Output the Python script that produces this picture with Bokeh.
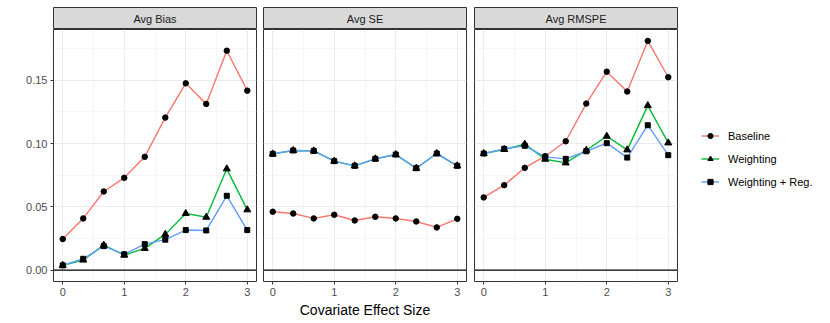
from bokeh.plotting import figure
from bokeh.layouts import row, column
from bokeh.models import Range1d, FixedTicker, Span, Legend, LegendItem, PrintfTickFormatter
from bokeh.core.properties import value
from bokeh.embed import file_html
from bokeh.resources import INLINE

# ---------------- data ----------------
effect_size = [0, 0.333, 0.667, 1, 1.333, 1.667, 2, 2.333, 2.667, 3]
panel_titles = ["Avg Bias", "Avg SE", "Avg RMSPE"]
methods = ["Baseline", "Weighting", "Weighting + Reg."]

bias_baseline = [0.0245, 0.0408, 0.0621, 0.0729, 0.0895, 0.1205, 0.1476, 0.1313, 0.1734, 0.1418]
bias_weighting = [0.0037, 0.0079, 0.0197, 0.0118, 0.0171, 0.0282, 0.0447, 0.0418, 0.0800, 0.0476]
bias_weighting_reg = [0.0037, 0.0089, 0.0189, 0.0124, 0.0205, 0.0240, 0.0316, 0.0313, 0.0587, 0.0316]

se_baseline = [0.0461, 0.0447, 0.0408, 0.0437, 0.0392, 0.0421, 0.0408, 0.0384, 0.0337, 0.0405]
se_weighting = [0.0918, 0.0945, 0.0942, 0.0861, 0.0824, 0.0879, 0.0913, 0.0805, 0.0921, 0.0824]
se_weighting_reg = [0.0918, 0.0945, 0.0942, 0.0861, 0.0824, 0.0879, 0.0913, 0.0805, 0.0921, 0.0824]

rmspe_baseline = [0.0574, 0.0671, 0.0808, 0.0900, 0.1018, 0.1316, 0.1568, 0.1411, 0.1811, 0.1524]
rmspe_weighting = [0.0921, 0.0953, 0.0995, 0.0876, 0.0847, 0.0947, 0.1058, 0.0950, 0.1300, 0.1005]
rmspe_weighting_reg = [0.0921, 0.0958, 0.0982, 0.0895, 0.0879, 0.0939, 0.1003, 0.0889, 0.1145, 0.0908]

x_ticks = [0, 1, 2, 3]
x_minor_ticks = [0.5, 1.5, 2.5]
y_ticks = [0.0, 0.05, 0.10, 0.15]
y_minor_ticks = [0.025, 0.075, 0.125, 0.175]
x_label = "Covariate Effect Size"

panel_data = [
    [bias_baseline, bias_weighting, bias_weighting_reg],
    [se_baseline, se_weighting, se_weighting_reg],
    [rmspe_baseline, rmspe_weighting, rmspe_weighting_reg],
]

# ---------------- styles ----------------
FONT = "Liberation Sans"
colors = ["#F8766D", "#00BA38", "#619CFF"]
markers = ["circle", "triangle", "square"]
marker_sizes = [5.5, 7, 5]

all_vals = [v for panel in panel_data for s in panel for v in s]
y_lo = min(0.0, min(all_vals))
y_hi = max(all_vals)
y_pad = 0.05 * (y_hi - y_lo)
x_pad = 0.05 * (max(effect_size) - min(effect_size))

x_range = Range1d(min(effect_size) - x_pad, max(effect_size) + x_pad)
y_range = Range1d(y_lo - y_pad, y_hi + y_pad)

FRAME_W = 203
TOP = 7
STRIP_H = 22
FRAME_H = 252
BOTTOM = 41

columns = []
for i, (title, series) in enumerate(zip(panel_titles, panel_data)):
    ml = 53 if i == 0 else 4
    mr = 4 if i == 1 else 3
    w = ml + FRAME_W + mr

    strip = figure(width=w, height=TOP + STRIP_H, x_range=x_range, y_range=Range1d(0, 1),
                   output_backend="svg", toolbar_location=None,
                   x_axis_location=None, y_axis_location=None,
                   min_border_left=ml, min_border_right=mr,
                   min_border_top=TOP, min_border_bottom=0,
                   background_fill_color="#d9d9d9", border_fill_color="white",
                   outline_line_color="#333333", outline_line_width=1)
    strip.grid.visible = False
    strip.text(x=[(x_range.start + x_range.end) / 2], y=[0.5], text=[title],
               text_align="center", text_baseline="middle",
               text_font=value(FONT), text_font_size="11px", text_color="#1a1a1a")

    p = figure(width=w, height=FRAME_H + BOTTOM, x_range=x_range, y_range=y_range,
               output_backend="svg", toolbar_location=None,
               y_axis_location="left" if i == 0 else None,
               min_border_left=ml, min_border_right=mr,
               min_border_top=0, min_border_bottom=BOTTOM,
               background_fill_color="white", border_fill_color="white",
               outline_line_color="#333333", outline_line_width=1)

    p.xaxis.ticker = FixedTicker(ticks=x_ticks, minor_ticks=x_minor_ticks)
    p.xaxis.axis_line_color = None
    p.xaxis.major_tick_line_color = "#333333"
    p.xaxis.major_tick_out = 3
    p.xaxis.major_tick_in = 0
    p.xaxis.minor_tick_line_color = None
    p.xaxis.major_label_text_font = FONT
    p.xaxis.major_label_text_font_size = "11px"
    p.xaxis.major_label_text_color = "#4d4d4d"
    p.xaxis.major_label_standoff = 2
    if i == 1:
        p.xaxis.axis_label = x_label
        p.xaxis.axis_label_text_font = FONT
        p.xaxis.axis_label_text_font_size = "14px"
        p.xaxis.axis_label_text_font_style = "normal"
        p.xaxis.axis_label_text_color = "black"
        p.xaxis.axis_label_standoff = 3

    if i == 0:
        p.yaxis.ticker = FixedTicker(ticks=y_ticks, minor_ticks=y_minor_ticks)
        p.yaxis.formatter = PrintfTickFormatter(format="%.2f")
        p.yaxis.axis_line_color = None
        p.yaxis.major_tick_line_color = "#333333"
        p.yaxis.major_tick_out = 3
        p.yaxis.major_tick_in = 0
        p.yaxis.minor_tick_line_color = None
        p.yaxis.major_label_text_font = FONT
        p.yaxis.major_label_text_font_size = "11px"
        p.yaxis.major_label_text_color = "#4d4d4d"
        p.yaxis.major_label_standoff = 2
    p.ygrid.ticker = FixedTicker(ticks=y_ticks, minor_ticks=y_minor_ticks)

    p.xgrid.ticker = FixedTicker(ticks=x_ticks, minor_ticks=x_minor_ticks)
    p.grid.grid_line_color = "#ebebeb"
    p.grid.grid_line_width = 1.1
    p.grid.minor_grid_line_color = "#f2f2f2"
    p.grid.minor_grid_line_width = 0.7

    for s, c in zip(series, colors):
        p.line(effect_size, s, line_color=c, line_width=1.4)
    for s, m, sz in zip(series, markers, marker_sizes):
        p.scatter(effect_size, s, marker=m, size=sz, fill_color="black", line_color="black")

    p.add_layout(Span(location=0, dimension="width", line_color="black", line_width=1.3))

    columns.append(column(strip, p, spacing=0))

# ---------------- legend ----------------
LEG_W = 146
total_h = TOP + STRIP_H + FRAME_H + BOTTOM
lg = figure(width=LEG_W, height=total_h, x_range=Range1d(0, 1), y_range=Range1d(0, 1),
            output_backend="svg", toolbar_location=None,
            x_axis_location=None, y_axis_location=None,
            min_border_left=0, min_border_right=0, min_border_top=0, min_border_bottom=0,
            outline_line_color=None, background_fill_color="white", border_fill_color="white")
lg.grid.visible = False
items = []
for name, c, m in zip(methods, colors, markers):
    lr = lg.line([-10, -9], [-10, -9], line_color=c, line_width=1.4)
    sr = lg.scatter([-10], [-10], marker=m, size=5, fill_color="black", line_color="black")
    items.append(LegendItem(label=name, renderers=[lr, sr]))
legend = Legend(items=items, location=(21, total_h - 188), orientation="vertical",
                glyph_width=18, glyph_height=13, spacing=10, label_standoff=9,
                label_text_font=FONT, label_text_font_size="11px", label_text_color="black",
                padding=0, margin=0, border_line_color=None, background_fill_alpha=0,
                label_height=13)
lg.add_layout(legend)

layout = row(*columns, lg, spacing=0)
open("out.html", "w").write(file_html(layout, INLINE))
